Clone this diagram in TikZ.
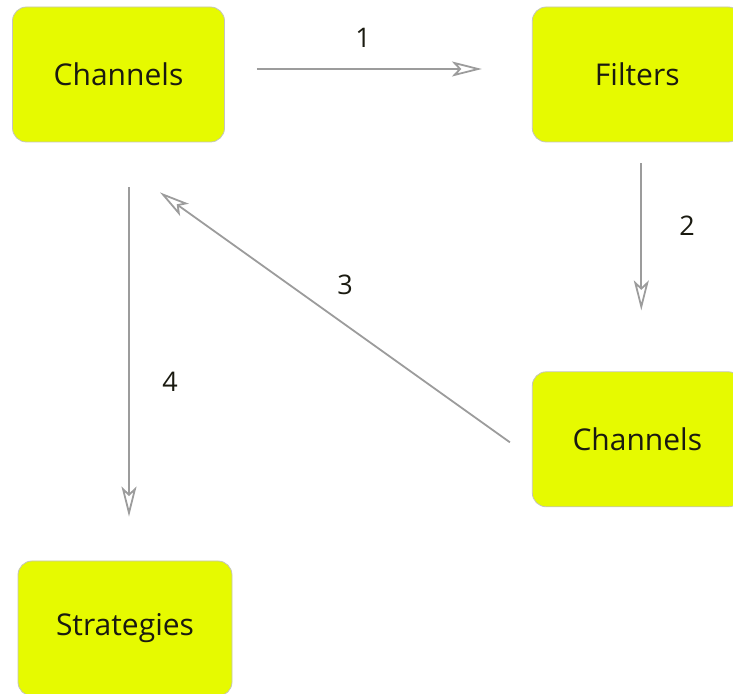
\documentclass[tikz,border=0pt]{standalone}
\usepackage{fontspec}
\usepackage{tikz}
\usetikzlibrary{arrows.meta,positioning,calc}
\newfontfamily\boxfont{Open Sans}
\definecolor{FlowLime}{HTML}{E6FA00}
\definecolor{FlowEdge}{HTML}{C4C4BC}
\definecolor{FlowGray}{HTML}{9C9C9C}
\definecolor{FlowText}{HTML}{1A1A10}

\begin{document}
\begin{tikzpicture}[
  x=1pt, y=1pt,
  box/.style={draw=FlowEdge, line width=0.8pt, rounded corners=14pt, fill=FlowLime, minimum width=212pt, minimum height=135pt, inner sep=0pt, text=FlowText, font=\boxfont\fontsize{30}{34}\selectfont},
  num/.style={text=FlowText, font=\boxfont\fontsize{27}{31}\selectfont},
  arrow/.style={-{Stealth[open, length=30pt, width=15pt, inset=7pt]}, line width=1.8pt, draw=FlowGray}
]
  \useasboundingbox (0,0) rectangle (733,693);
  \node[box] (chanA) at (118.5,618.5) {Channels};
  \node[box, right=307pt of chanA, minimum width=210pt] (filters) {Filters};
  \node[box, below=229pt of filters, minimum width=210pt] (chanB) {Channels};
  \node[box, minimum width=214pt] (strategies) at (125,64.5) {Strategies};

  \node[num] (one) at (363,655) {1};
  \node[num] (two) at (687,467) {2};
  \node[num] (three) at (345,408) {3};
  \node[num] (four) at (170,311) {4};

  \draw[arrow, shorten <=32pt, shorten >=50pt] ([yshift=5.5pt]chanA.east) -- ([yshift=5.5pt]filters.west);
  \draw[arrow, shorten <=21pt, shorten >=61pt] ([xshift=4pt]filters.south) -- ([xshift=4pt]filters.south |- chanB.north);
  \draw[arrow] ([xshift=-22pt,yshift=-3pt]chanB.west) -- ([xshift=41.5pt,yshift=-50pt]chanA.south);
  \draw[arrow, shorten <=45pt, shorten >=44pt] ([xshift=10.5pt]chanA.south) -- ([xshift=10.5pt]chanA.south |- strategies.north);
\end{tikzpicture}
\end{document}
